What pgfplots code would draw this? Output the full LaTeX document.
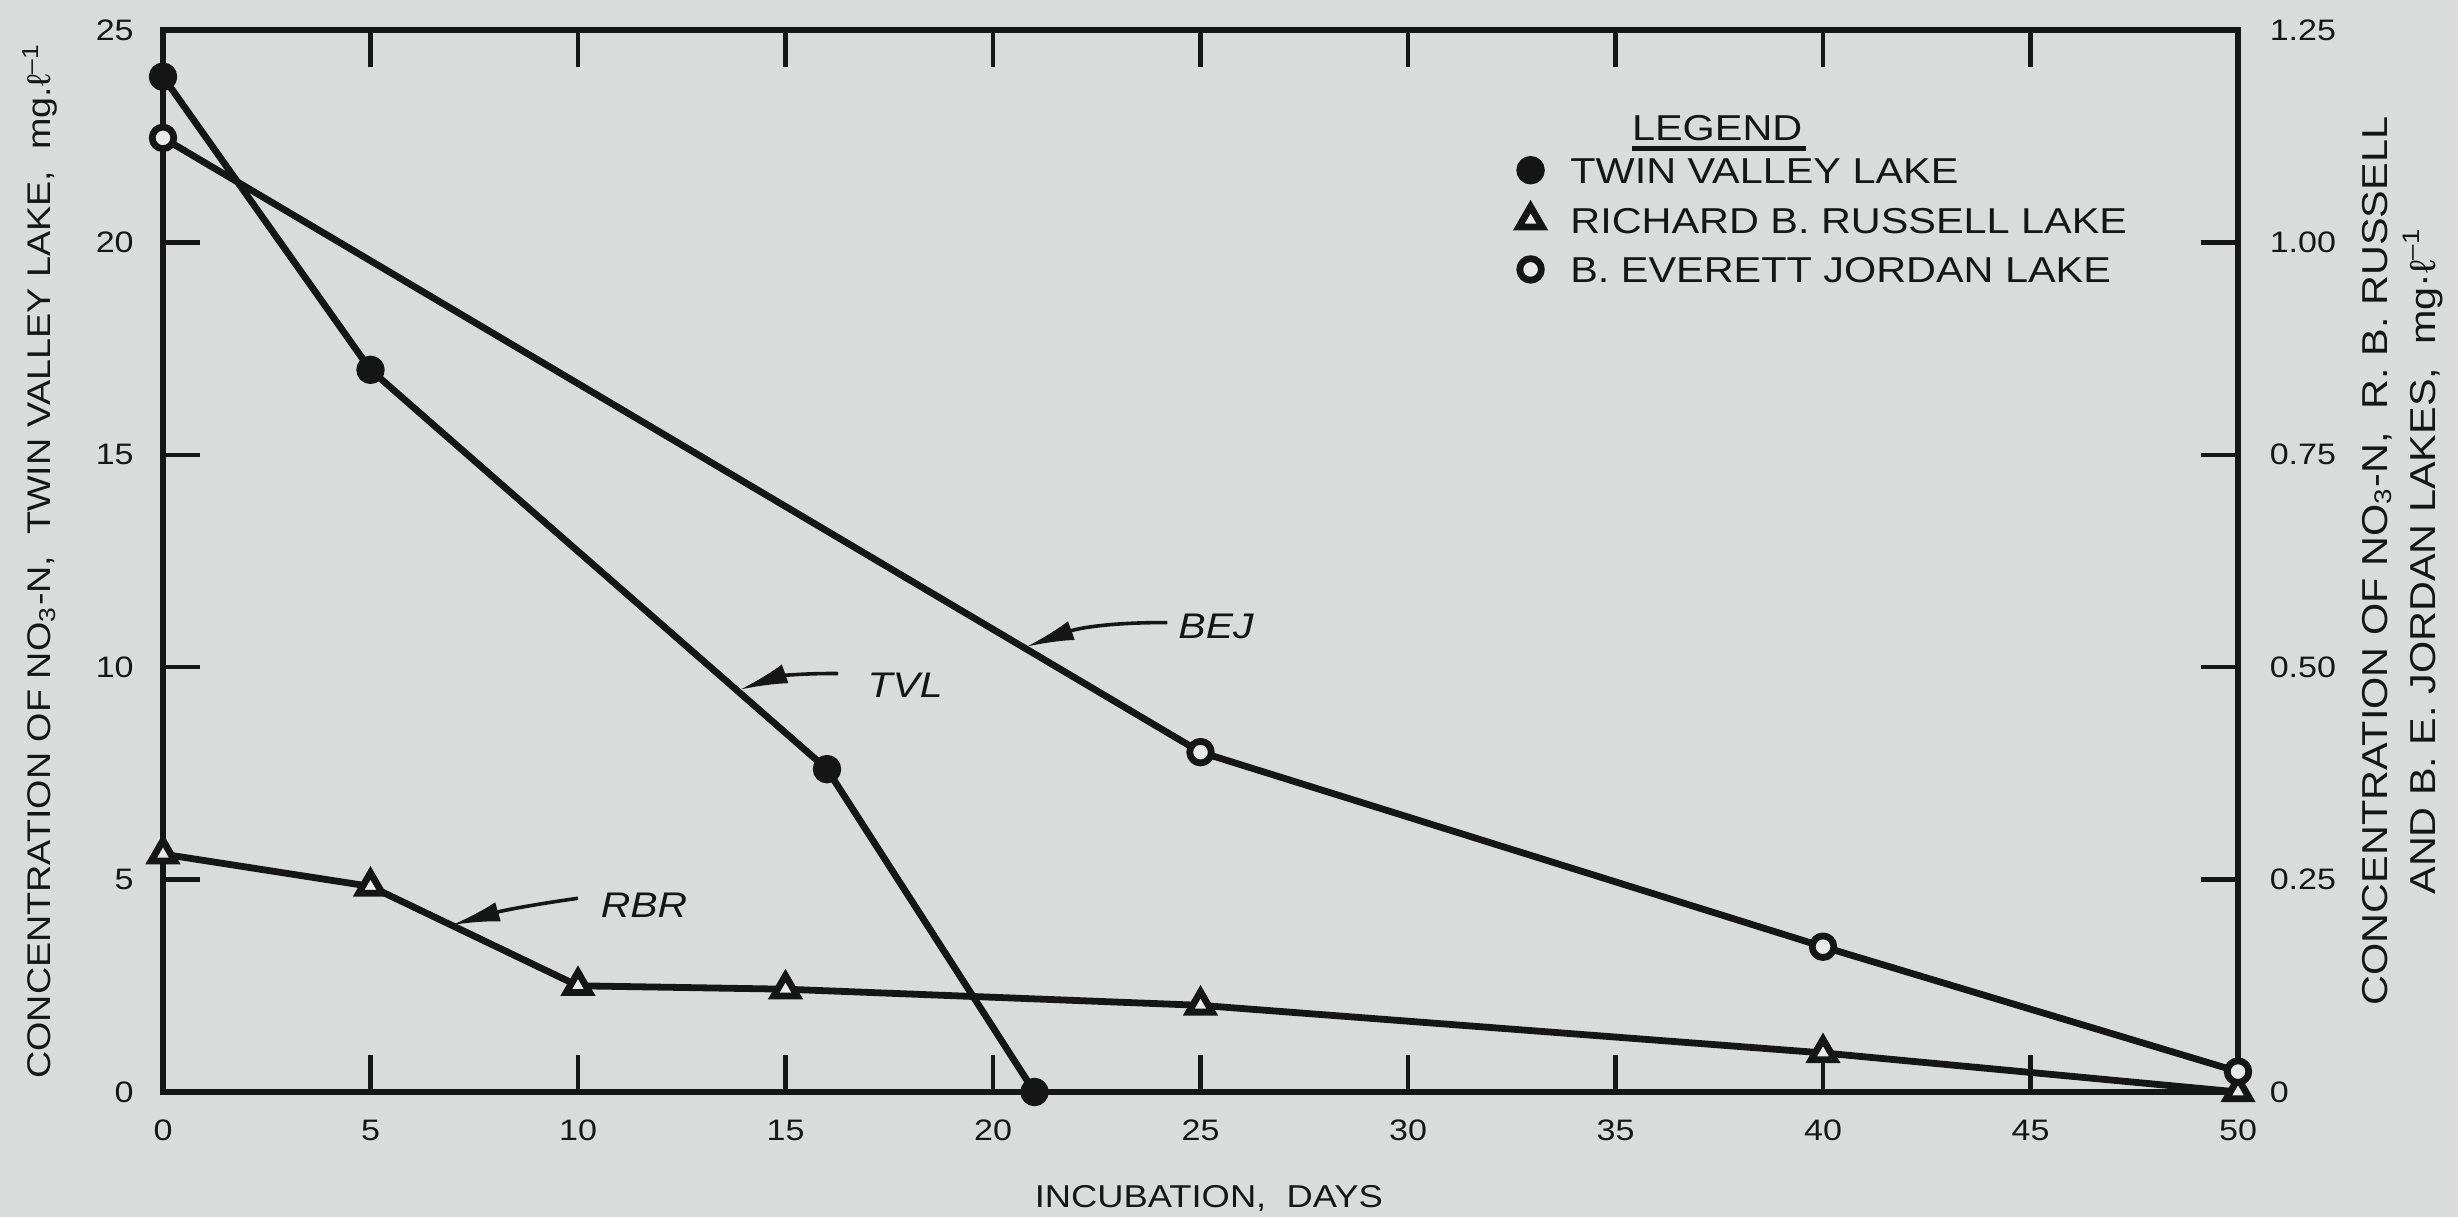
\documentclass[border=0pt]{standalone}
\usepackage{pgfplots}
\pgfplotsset{compat=1.18}
\usepackage{pgfplotstable}
\usepackage{fontspec}
\setmainfont{Liberation Sans}[FakeStretch=1.15]
\usetikzlibrary{arrows.meta}
\definecolor{bg}{RGB}{218,220,219}
\definecolor{bglight}{RGB}{232,233,232}
\definecolor{ink}{RGB}{22,22,22}
\tikzset{lbl/.style={anchor=west, inner sep=0pt, font=\fontsize{8.9}{10}\itshape\selectfont, text=ink},
         arr/.style={ink, line width=0.9pt, -{Latex[length=12pt,width=5pt]}}}

% Twin Valley Lake (left axis, mg/l)
\pgfplotstableread{
x y
0 23.9
5 17.0
16 7.6
21 0.0
}\tvl
% Richard B. Russell Lake (right axis, mg/l)
\pgfplotstableread{
x y
0 0.28
5 0.242
10 0.125
15 0.121
25 0.102
40 0.046
50 0.0
}\rbr
% B. Everett Jordan Lake (right axis, mg/l)
\pgfplotstableread{
x y
0 1.123
25 0.40
40 0.171
50 0.024
}\bej

\begin{document}
\begin{tikzpicture}
\fill[bg] (-40.75pt,-31.25pt) rectangle (573.75pt,273pt);
\begin{axis}[
  at={(0,0)}, anchor=south west,
  scale only axis, width=518.75pt, height=265.5pt,
  xmin=0, xmax=50, ymin=0, ymax=25,
  xtick={0,5,...,50}, ytick={0,5,...,25},
  xtick pos=both, xticklabel pos=lower, ytick pos=left,
  tick align=inside, major tick length=9.25pt,
  axis line style={ink, line width=1.5pt},
  every tick/.style={ink, line width=1.1pt},
  /pgf/number format/assume math mode=true,
  tick label style={font=\fontsize{7.4}{8}\selectfont, text=ink},
  xticklabel style={yshift=-3.4pt},
  yticklabel style={xshift=-3.8pt},
  clip=false,
]
\addplot[ink, line width=1.7pt, line join=round, mark=*, mark size=2.7pt, mark options={fill=ink, draw=ink}] table[x=x,y=y] {\tvl};

% axis labels
\node[anchor=base, font=\fontsize{7.9}{9}\selectfont, text=ink] at (axis cs:25.2,-2.73) {INCUBATION,\ \ DAYS};
\node[rotate=90, anchor=base, font=\fontsize{8.2}{9}\selectfont, text=ink] at (axis cs:-2.72,12.5) {CONCENTRATION OF NO\textsubscript{3}-N,\ \ TWIN VALLEY LAKE,\ \ mg.ℓ\textsuperscript{--1}};
\node[rotate=90, anchor=base, font=\fontsize{9}{10}\selectfont, text=ink] at (axis cs:53.6,12.5) {CONCENTRATION OF NO\textsubscript{3}-N,\ \ R. B. RUSSELL};
\node[rotate=90, anchor=base, font=\fontsize{9}{10}\selectfont, text=ink] at (axis cs:54.75,12.5) {AND B. E. JORDAN LAKES,\ \ mg\textperiodcentered ℓ\textsuperscript{--1}};

% legend title
\node[anchor=base, font=\fontsize{9}{10}\selectfont, text=ink] at (axis cs:37.45,22.41) {LEGEND};
\draw[ink, line width=1.25pt] (axis cs:35.4,22.2) -- (axis cs:39.6,22.2);

% curve labels with arrows
\node[lbl] at (axis cs:24.45,10.95) {BEJ};
\draw[arr] (axis cs:24.2,11.05) to[bend right=10] (axis cs:20.8,10.48);
\node[lbl] at (axis cs:16.96,9.58) {TVL};
\draw[arr] (axis cs:16.27,9.85) to[bend right=10] (axis cs:13.9,9.47);
\node[lbl] at (axis cs:10.53,4.40) {RBR};
\draw[arr] (axis cs:10.0,4.56) to[bend right=4] (axis cs:6.96,3.93);
\end{axis}

\begin{axis}[
  at={(0,0)}, anchor=south west,
  scale only axis, width=518.75pt, height=265.5pt,
  xmin=0, xmax=50, ymin=0, ymax=1.25,
  axis x line=none, axis y line*=right,
  ytick={0,0.25,0.5,0.75,1,1.25},
  yticklabels={0,0.25,0.50,0.75,1.00,1.25},
  tick align=inside, major tick length=9.25pt,
  axis line style={ink, line width=1.5pt, -},
  every tick/.style={ink, line width=1.1pt},
  tick label style={font=\fontsize{7.4}{8}\selectfont, text=ink},
  yticklabel style={xshift=4.4pt},
  clip=false,
  legend style={draw=none, fill=none, at={(axis cs:32.67,1.1)}, anchor=north west,
    inner sep=0pt, outer sep=0pt, row sep=5.9pt, column sep=7pt,
    font=\fontsize{9}{10}\selectfont, text=ink,
    nodes={inner sep=0pt, text height=6.4pt, text depth=0pt, anchor=west}},
  legend cell align=left,
  legend image code/.code={\draw[#1,only marks] plot coordinates {(0pt,0pt)};},
]
\addlegendimage{ink, line width=1.7pt, mark=*, mark size=2.7pt, mark options={fill=ink, draw=ink}}
\addlegendentry{TWIN VALLEY LAKE}
\addplot[ink, line width=1.7pt, line join=round, mark=triangle*, mark size=3.4pt, mark options={fill=bglight, draw=ink, line join=miter}] table[x=x,y=y] {\rbr};
\addlegendentry{RICHARD B. RUSSELL LAKE}
\addplot[ink, line width=1.7pt, line join=round, mark=*, mark size=2.7pt, mark options={fill=bglight, draw=ink}] table[x=x,y=y] {\bej};
\addlegendentry{B. EVERETT JORDAN LAKE}
\end{axis}
\pgfresetboundingbox
\path[use as bounding box] (-40.75pt,-31.25pt) rectangle (573.75pt,273pt);
\end{tikzpicture}
\end{document}
